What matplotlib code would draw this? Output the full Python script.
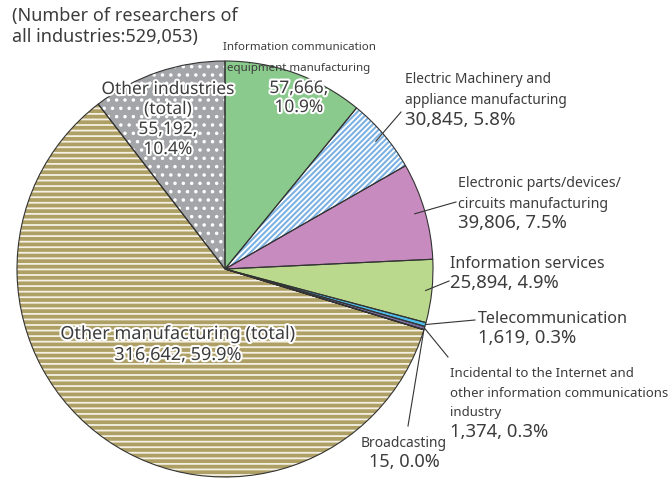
"""Researchers by industry, pie chart."""

import numpy as np
import matplotlib
matplotlib.use('Agg')
import matplotlib.pyplot as plt
import matplotlib.patheffects as pe

# data
labels = ['Information communication\nequipment manufacturing',
          'Electric Machinery and\nappliance manufacturing',
          'Electronic parts/devices/\ncircuits manufacturing',
          'Information services',
          'Telecommunication',
          'Incidental to the Internet and\nother information communications\nindustry',
          'Broadcasting',
          'Other manufacturing (total)',
          'Other industries\n(total)']
values = [57666, 30845, 39806, 25894, 1619, 1374, 15, 316642, 55192]
shares = ['10.9%', '5.8%', '7.5%', '4.9%', '0.3%', '0.3%', '0.0%', '59.9%', '10.4%']
colors = ['#8aca8c', '#7eb2e2', '#c78bbf', '#bad98c', '#4dbde9', '#7a6e9e',
          '#6a6a8a', '#ae9f65', '#a3a5a8']
hatches = [None, '//////', None, None, None, None, None, '---', '..']
total_label = '(Number of researchers of\nall industries:529,053)'

W, H = 671, 481
CX, CY, R = 225, 270, 208
TXT = '#3c3c3c'
FONT = 'Noto Sans'
plt.rcParams['hatch.linewidth'] = 1.3

figure = plt.figure(figsize=(W / 100, H / 100), dpi=100)
axes = figure.add_axes([0, 0, 1, 1])

# fill + white hatching
wedges, _ = axes.pie(values, colors=colors, startangle=90, counterclock=False,
                     center=(CX, H - CY), radius=R, frame=False,
                     wedgeprops=dict(linewidth=0, edgecolor='white'))
for w, h in zip(wedges, hatches):
  if h:
    w.set_hatch(h)
    w.set_edgecolor('#f4f1e4' if h == '---' else 'white')
# outlines
axes.pie(values, colors=['none'] * len(values), startangle=90,
         counterclock=False, center=(CX, H - CY), radius=R, frame=False,
         wedgeprops=dict(linewidth=0.8, edgecolor='#333333', fill=False))
axes.set_xlim(0, W)
axes.set_ylim(0, H)
axes.set_aspect('equal')
axes.axis('off')


def edge_point(i, k):
  w = wedges[i]
  a = np.deg2rad((w.theta1 + w.theta2) / 2)
  cx, cy = w.center
  return cx + k * R * np.cos(a), cy + k * R * np.sin(a)


def num(v):
  return f'{v:,}'


def lines(x, baselines, texts, sizes, ha='left', effects=None):
  # one text per line, placed on its own baseline (pixels from top)
  for b, t, s in zip(baselines, texts, sizes):
    axes.text(x, H - b, t, fontsize=s, family=FONT, color=TXT, ha=ha,
              va='baseline', path_effects=effects)


outline = [pe.withStroke(linewidth=3, foreground='white')]

# title
lines(12, [21, 42], total_label.split('\n'), [13, 13])

# inside labels
lines(299, [50, 71], labels[0].split('\n'), [8.3, 8.3], ha='center')
lines(299, [94, 113], [num(values[0]) + ',', shares[0]], [12.5, 12.5],
      ha='center', effects=outline)
lines(168, [95, 115, 135, 155],
      labels[8].split('\n') + [num(values[8]) + ',', shares[8]],
      [12.5] * 4, ha='center', effects=outline)
lines(178, [340, 361], [labels[7], f'{num(values[7])}, {shares[7]}'],
      [13, 13], ha='center', effects=outline)

# outside labels with leaders: index, leader start k, leader end, x,
# baselines, name size, number size, alignment
outside = [
    (1, 0.95, (401, 113), 405, [83, 104, 125], 9.9, 13.5, 'left'),
    (2, 0.95, (456, 203), 458, [187, 208, 228], 10.2, 13.3, 'left'),
    (3, 0.97, (449, 282), 450, [268, 288], 11.5, 13.3, 'left'),
    (4, 1.0, (475, 321), 478, [323, 343], 11.7, 13.3, 'left'),
    (5, 1.0, (448, 358), 450, [377, 397, 416, 437], 9.5, 13.3, 'left'),
    (6, 1.0, (408, 427), 404, [447, 467], 10.0, 13.0, 'center'),
]
for i, k, end, x, bases, s_name, s_num, ha in outside:
  x0, y0 = edge_point(i, k)
  axes.plot([x0, end[0]], [y0, H - end[1]], color='#333333', linewidth=0.8)
  names = labels[i].split('\n')
  lines(x, bases, names + [f'{num(values[i])}, {shares[i]}'],
        [s_name] * len(names) + [s_num], ha=ha)

figure.savefig('out.png', dpi=100)
